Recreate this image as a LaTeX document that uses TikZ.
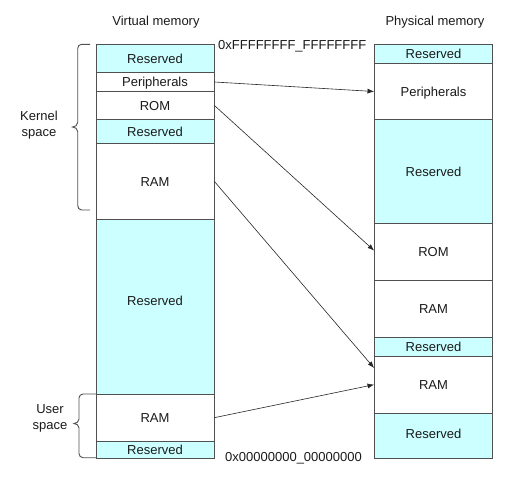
\documentclass[tikz,border=0pt]{standalone}
\usepackage{fontspec}
\setmainfont{Liberation Sans}
\usetikzlibrary{arrows.meta,calc}
\definecolor{resv}{HTML}{CCFFFF}
\definecolor{edge}{HTML}{505050}
\definecolor{ink}{HTML}{1A1A1A}
\tikzset{
  blk/.style={draw=edge, line width=0.9pt, inner sep=0pt, minimum width=118pt,
    text height=9.4pt, text depth=0pt, text=ink, font=\fontsize{13}{15}\selectfont},
  rsv/.style={blk, fill=resv},
  usd/.style={blk, fill=white},
  map/.style={draw=black!85, line width=0.6pt, -{Latex[length=6.5pt,width=5pt]}},
  lbl/.style={font=\fontsize{13}{16}\selectfont, align=center, inner sep=0pt, text=ink},
  brc/.style={draw=edge, line width=0.9pt},
}
\begin{document}
\begin{tikzpicture}[x=1pt,y=1pt]
\useasboundingbox (0,0) rectangle (511,-479);
% titles
\node[lbl, anchor=base] (vtitle) at (156,-25) {Virtual memory};
\node[lbl, anchor=base] (ptitle) at (435,-25) {Physical memory};
\node[lbl, anchor=base west] (hiaddr) at (218,-49) {0xFFFFFFFF\_FFFFFFFF};
\node[lbl, anchor=base west] (loaddr) at (225,-461.5) {0x00000000\_00000000};
% virtual memory
\node[rsv, minimum height=28.4pt] (vres1) at (155,-58.5) {Reserved};
\node[usd, minimum height=18.6pt] (vper) at (155,-82) {Peripherals};
\node[usd, minimum height=28.4pt] (vrom) at (155,-105.5) {ROM};
\node[rsv, minimum height=24pt] (vres2) at (155,-131.7) {Reserved};
\node[usd, minimum height=75.6pt] (vram) at (155,-181.5) {RAM};
\node[rsv, minimum height=174.7pt, text depth=10.8pt] (vres3) at (155,-306.65) {Reserved};
\node[usd, minimum height=47.3pt] (vuram) at (155,-417.65) {RAM};
\node[rsv, minimum height=16.7pt] (vres4) at (155,-449.65) {Reserved};
% physical memory
\node[rsv, minimum height=19pt] (pres1) at (433.5,-53.8) {Reserved};
\node[usd, minimum height=56.4pt] (pper) at (433.5,-91.5) {Peripherals};
\node[rsv, minimum height=103.6pt] (pres2) at (433.5,-171.5) {Reserved};
\node[usd, minimum height=57.4pt] (prom) at (433.5,-252) {ROM};
\node[usd, minimum height=56.6pt] (pram1) at (433.5,-309) {RAM};
\node[rsv, minimum height=19pt] (pres3) at (433.5,-346.8) {Reserved};
\node[usd, minimum height=56.7pt] (pram2) at (433.5,-384.65) {RAM};
\node[rsv, minimum height=45pt, text depth=3pt] (pres4) at (433.5,-435.5) {Reserved};
% mappings
\draw[map] (vper.east) -- (pper.west);
\draw[map] (vrom.east) -- ($(prom.west)+(0,1.5)$);
\draw[map] (vram.east) -- ($(pram2.west)+(0,16.7)$);
\draw[map] (vuram.east) -- (pram2.west);
% braces and labels
\draw[brc] (90,-44.3) -- (81.5,-44.3) to[out=180,in=90] (77.7,-48.5) -- (77.7,-122.5)
  to[out=-90,in=0] (72.5,-127) to[out=0,in=90] (77.7,-131.5) -- (77.7,-205.5)
  to[out=-90,in=180] (81.5,-210) -- (90,-210);
\draw[brc] (96,-394) -- (83,-394) to[out=180,in=90] (79,-398) -- (79,-419)
  to[out=-90,in=0] (74,-423.5) to[out=0,in=90] (79,-428) -- (79,-453.5)
  to[out=-90,in=180] (83,-457.7) -- (96,-457.7);
\node[lbl] (kernel) at (39,-125.6) {Kernel\\space};
\node[lbl] (user) at (50,-418.5) {User\\space};
\end{tikzpicture}
\end{document}
